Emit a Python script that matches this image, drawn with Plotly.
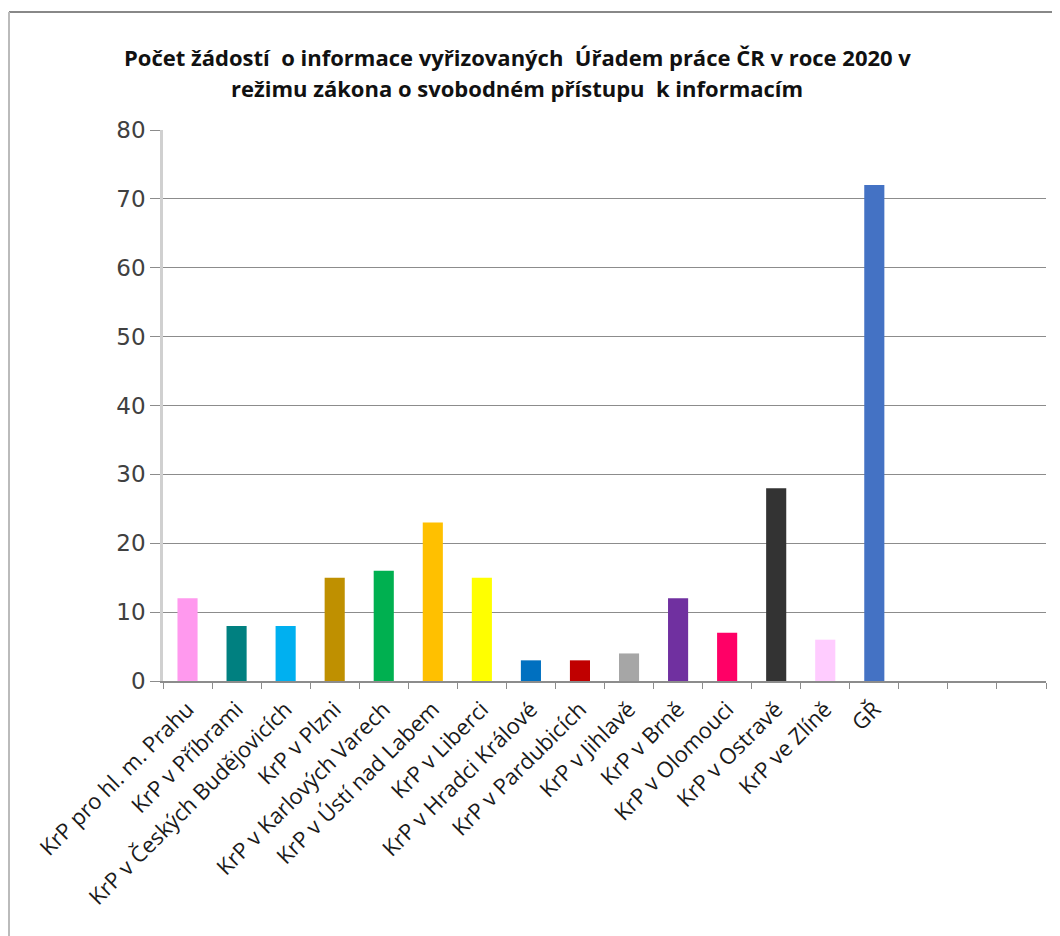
import plotly.graph_objects as go

categories = [
    "KrP pro hl. m. Prahu", "KrP v Příbrami", "KrP v Českých Budějovicích",
    "KrP v Plzni", "KrP v Karlových Varech", "KrP v Ústí nad Labem",
    "KrP v Liberci", "KrP v Hradci Králové", "KrP v Pardubicích",
    "KrP v Jihlavě", "KrP v Brně", "KrP v Olomouci", "KrP v Ostravě",
    "KrP ve Zlíně", "GŘ",
]
values = [12, 8, 8, 15, 16, 23, 15, 3, 3, 4, 12, 7, 28, 6, 72]
colors = [
    "#FF99EE", "#008080", "#00B0F0", "#BF9000", "#00B050", "#FFC000",
    "#FFFF00", "#0070C0", "#C00000", "#A6A6A6", "#7030A0", "#FF0066",
    "#333333", "#FFCCFF", "#4472C4",
]
empty_slots = ["\u200b", "\u200b\u200b", "\u200b\u200b\u200b"]
title_lines = [
    "Počet žádostí  o informace vyřizovaných  Úřadem práce ČR v roce 2020 v",
    "režimu zákona o svobodném přístupu  k informacím",
]
y_ticks = [0, 10, 20, 30, 40, 50, 60, 70, 80]

FONT = "Open Sans"

# page is offset by the 8px body margin
W, H = 1052, 928
L, T, R, B = 155, 122, 14, 255
PW, PH = W - L - R, H - T - B

fig = go.Figure()
fig.add_trace(go.Bar(
    x=categories, y=values, marker=dict(color=colors, line=dict(width=0)),
    width=0.41, showlegend=False,
))

all_cats = categories + empty_slots
fig.update_layout(
    width=W, height=H,
    paper_bgcolor="white", plot_bgcolor="white",
    margin=dict(l=L, r=R, t=T, b=B),
    font=dict(family=FONT, color="#222222"),
    xaxis=dict(
        type="category", categoryorder="array", categoryarray=all_cats,
        range=[-0.5, len(all_cats) - 0.5],
        tickson="boundaries", ticks="outside", ticklen=6, tickcolor="#8C8C8C",
        showline=True, linecolor="#8C8C8C", linewidth=1.5,
        tickangle=-45, tickfont=dict(size=22, family=FONT, color="#1A1A1A"),
        ticklabelstandoff=5,
        showgrid=False, fixedrange=True,
    ),
    yaxis=dict(
        range=[0, 80], tickvals=y_ticks, ticks="outside", ticklen=10,
        tickcolor="#8C8C8C", showgrid=True, gridcolor="#8C8C8C", gridwidth=1,
        showline=True, linecolor="#D0D0D0", linewidth=2.5,
        tickfont=dict(size=23, family="DejaVu Sans", color="#404040"),
        zeroline=False, ticklabelstandoff=0,
    ),
)

for i, line in enumerate(title_lines):
    fig.add_annotation(
        text="<b>" + line + "</b>", xref="paper", yref="paper",
        x=(517 - 8 - L) / PW, y=1 + (T - (57 - 8 + 31 * i)) / PH,
        xanchor="center", yanchor="middle", showarrow=False,
        font=dict(family=FONT, size=22, color="#111111"),
    )

fig.add_shape(type="line", xref="paper", yref="paper",
              x0=(1 - L) / PW, x1=(W - L) / PW,
              y0=1 + (T - 4) / PH, y1=1 + (T - 4) / PH,
              line=dict(color="#888888", width=2))
fig.add_shape(type="line", xref="paper", yref="paper",
              x0=(1 - L) / PW, x1=(1 - L) / PW,
              y0=1 + (T - 4) / PH, y1=-B / PH,
              line=dict(color="#BBBBBB", width=2))

fig.write_html("out.html")
